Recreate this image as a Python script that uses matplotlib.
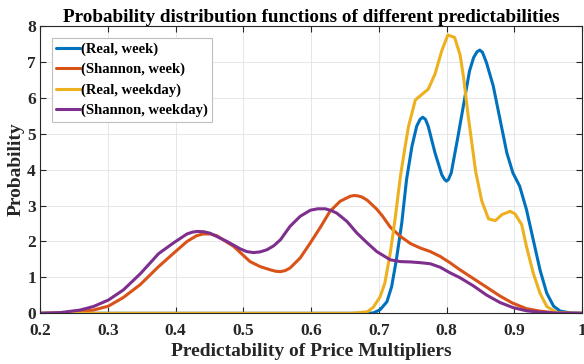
import matplotlib
matplotlib.use("Agg")
import matplotlib.pyplot as plt

plt.rcParams['font.family'] = ['Liberation Serif', 'DejaVu Serif']
plt.rcParams['font.weight'] = 'bold'

labels = ['(Real, week)', '(Shannon, week)', '(Real, weekday)', '(Shannon, weekday)']
colors = ['#0072BD', '#D95319', '#EDB120', '#7E2F8E']

real_week_x = [0.2, 0.6, 0.68, 0.692, 0.702, 0.712, 0.719, 0.726, 0.734, 0.741, 0.749, 0.756,
               0.761, 0.765, 0.769, 0.773, 0.783, 0.793, 0.797, 0.800, 0.803, 0.807, 0.817,
               0.827, 0.834, 0.840, 0.845, 0.849, 0.853, 0.859, 0.869, 0.879, 0.889, 0.898,
               0.908, 0.918, 0.928, 0.938, 0.948, 0.958, 0.968, 0.983, 1.0]
real_week_y = [0, 0, 0, 0.01, 0.1, 0.32, 0.74, 1.49, 2.52, 3.72, 4.65, 5.21,
               5.4, 5.46, 5.4, 5.21, 4.47, 3.86, 3.73, 3.68, 3.73, 3.91, 4.93,
               6.0, 6.75, 7.12, 7.28, 7.33, 7.27, 6.98, 6.33, 5.4, 4.47, 3.91,
               3.54, 2.89, 2.05, 1.21, 0.56, 0.2, 0.06, 0.01, 0]

shannon_week_x = [0.2, 0.23, 0.259, 0.279, 0.301, 0.323, 0.348, 0.375, 0.397, 0.417, 0.431,
                  0.441, 0.451, 0.461, 0.486, 0.510, 0.525, 0.540, 0.548, 0.555, 0.562,
                  0.569, 0.584, 0.599, 0.614, 0.628, 0.643, 0.658, 0.664, 0.669, 0.675,
                  0.683, 0.697, 0.705, 0.717, 0.732, 0.747, 0.761, 0.776, 0.791, 0.805,
                  0.820, 0.837, 0.859, 0.879, 0.898, 0.918, 0.938, 0.958, 0.98, 1.0]
shannon_week_y = [0, 0.01, 0.05, 0.09, 0.2, 0.44, 0.8, 1.3, 1.67, 2.0, 2.16,
                  2.21, 2.21, 2.16, 1.86, 1.44, 1.3, 1.21, 1.17, 1.16, 1.19,
                  1.26, 1.54, 1.96, 2.4, 2.84, 3.12, 3.26, 3.28, 3.27, 3.24,
                  3.15, 2.9, 2.72, 2.4, 2.14, 1.94, 1.82, 1.72, 1.58, 1.41,
                  1.21, 1.0, 0.73, 0.48, 0.28, 0.13, 0.06, 0.02, 0.005, 0]

real_weekday_x = [0.2, 0.66, 0.683, 0.692, 0.702, 0.709, 0.717, 0.724, 0.732, 0.739, 0.744,
                  0.754, 0.764, 0.773, 0.783, 0.793, 0.802, 0.812, 0.820, 0.825, 0.832,
                  0.843, 0.852, 0.862, 0.872, 0.882, 0.894, 0.901, 0.911, 0.918, 0.928,
                  0.938, 0.948, 0.963, 0.98, 1.0]
real_weekday_y = [0, 0, 0.04, 0.17, 0.46, 0.84, 1.68, 2.61, 3.82, 4.65, 5.21,
                  5.94, 6.1, 6.24, 6.66, 7.31, 7.75, 7.68, 7.2, 6.6, 5.5,
                  3.95, 3.13, 2.63, 2.58, 2.75, 2.84, 2.77, 2.47, 1.86, 1.12,
                  0.56, 0.19, 0.02, 0, 0]

shannon_weekday_x = [0.2, 0.23, 0.259, 0.279, 0.301, 0.323, 0.348, 0.375, 0.397, 0.417, 0.425,
                     0.432, 0.442, 0.451, 0.476, 0.496, 0.505, 0.515, 0.525, 0.535, 0.545,
                     0.555, 0.569, 0.584, 0.599, 0.610, 0.621, 0.630, 0.638, 0.653, 0.668,
                     0.683, 0.697, 0.717, 0.732, 0.747, 0.761, 0.776, 0.791, 0.805, 0.820,
                     0.840, 0.859, 0.879, 0.898, 0.918, 0.938, 0.96, 0.98, 1.0]
shannon_weekday_y = [0, 0.02, 0.09, 0.19, 0.37, 0.65, 1.1, 1.66, 1.96, 2.21, 2.26,
                     2.28, 2.27, 2.23, 2.0, 1.79, 1.72, 1.69, 1.71, 1.77, 1.88,
                     2.05, 2.42, 2.70, 2.87, 2.91, 2.91, 2.86, 2.79, 2.56, 2.23,
                     1.96, 1.72, 1.49, 1.44, 1.43, 1.41, 1.38, 1.28, 1.13, 0.99,
                     0.76, 0.51, 0.3, 0.16, 0.07, 0.03, 0.01, 0.003, 0]

series = [(real_week_x, real_week_y), (shannon_week_x, shannon_week_y),
          (real_weekday_x, real_weekday_y), (shannon_weekday_x, shannon_weekday_y)]

x_ticks = [0.2, 0.3, 0.4, 0.5, 0.6, 0.7, 0.8, 0.9, 1.0]
x_tick_labels = ['0.2', '0.3', '0.4', '0.5', '0.6', '0.7', '0.8', '0.9', '1']
y_ticks = [0, 1, 2, 3, 4, 5, 6, 7, 8]

fig = plt.figure(figsize=(5.84, 3.64), dpi=100)
ax = fig.add_axes([40/584, 1 - 313.3/364, 542/584, (313.3 - 26)/364])

for (xs, ys), c, lab in zip(series, colors, labels):
    ax.plot(xs, ys, color=c, linewidth=2.2, label=lab,
            solid_joinstyle='round', solid_capstyle='round')

ax.set_xlim(0.2, 1.0)
ax.set_ylim(0, 8)
ax.set_xticks(x_ticks)
ax.set_xticklabels(x_tick_labels)
ax.set_yticks(y_ticks)
ax.grid(True, color='#e3e3e3', linewidth=0.6)
ax.set_axisbelow(True)
ax.tick_params(direction='in', top=True, right=True, length=4, width=0.8,
               colors='#262626', labelsize=12.5)
ax.tick_params(axis='x', pad=7)
ax.tick_params(axis='y', pad=3)
for lbl in ax.get_xticklabels() + ax.get_yticklabels():
    lbl.set_fontweight('bold')
    lbl.set_color('#262626')
for s in ax.spines.values():
    s.set_color('#262626')
    s.set_linewidth(0.8)

ax.set_xlabel('Predictability of Price Multipliers', fontsize=14, fontweight='bold',
              color='#262626', labelpad=3)
ax.set_ylabel('Probability', fontsize=14, fontweight='bold', color='#262626', labelpad=2)
ax.set_title('Probability distribution functions of different predictabilities',
             fontsize=13.8, fontweight='bold', color='#000000', pad=3)

leg = ax.legend(loc='upper left', bbox_to_anchor=(12/542, 1 - 12/287), borderaxespad=0,
                fontsize=10.5, handlelength=1.6, handletextpad=0.1, labelspacing=0.48,
                borderpad=0.3, fancybox=False, framealpha=1, edgecolor='#bfbfbf')
leg.get_frame().set_linewidth(0.8)
for t in leg.get_texts():
    t.set_fontweight('bold')

fig.savefig('out.png', dpi=100)
